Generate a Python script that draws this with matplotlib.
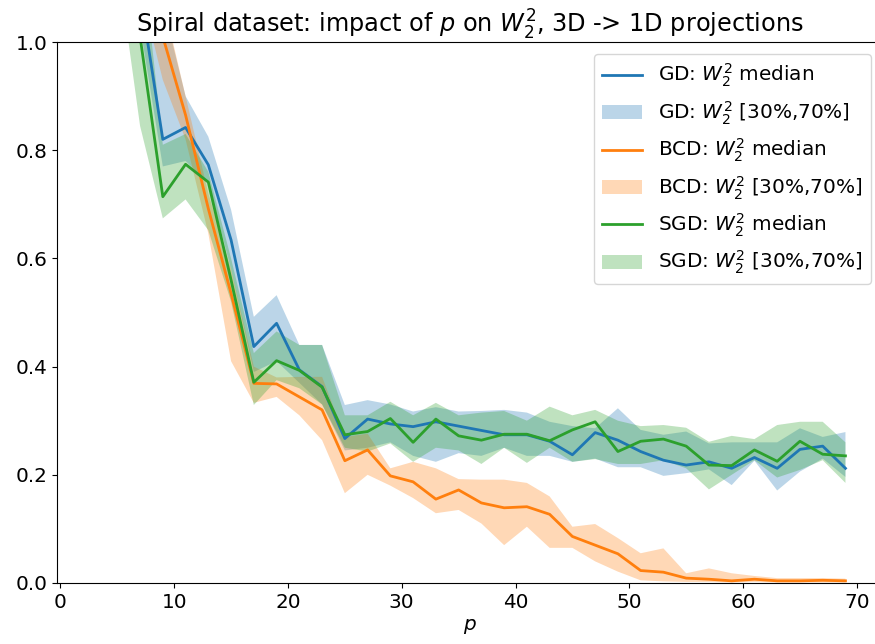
import numpy as np
import matplotlib
matplotlib.use('Agg')
import matplotlib.pyplot as plt

# valeurs de p (projections)
p = np.arange(3, 70, 2)

# GD
gd_med = [1.7, 1.4, 1.09, 0.82, 0.842, 0.773, 0.634, 0.437, 0.48, 0.394, 0.363, 0.267,
          0.303, 0.294, 0.289, 0.298, 0.290, 0.282, 0.274, 0.274, 0.262, 0.237, 0.278,
          0.264, 0.243, 0.227, 0.218, 0.224, 0.212, 0.232, 0.212, 0.247, 0.253, 0.212]
gd_lo = [1.6, 1.3, 1.03, 0.77, 0.78, 0.74, 0.58, 0.39, 0.41, 0.37, 0.33, 0.245,
         0.25, 0.26, 0.235, 0.224, 0.24, 0.235, 0.25, 0.235, 0.235, 0.224, 0.23,
         0.214, 0.214, 0.198, 0.203, 0.21, 0.181, 0.226, 0.171, 0.206, 0.23, 0.196]
gd_hi = [1.9, 1.6, 1.25, 1.07, 0.9, 0.825, 0.69, 0.492, 0.532, 0.44, 0.44, 0.329,
         0.338, 0.33, 0.317, 0.325, 0.317, 0.318, 0.32, 0.315, 0.298, 0.29, 0.286,
         0.323, 0.283, 0.274, 0.28, 0.258, 0.26, 0.26, 0.26, 0.286, 0.27, 0.279]

# BCD
bcd_med = [1.8, 1.6, 1.3, 1.01, 0.865, 0.692, 0.535, 0.369, 0.368, 0.344, 0.32, 0.226,
           0.246, 0.198, 0.187, 0.155, 0.172, 0.148, 0.139, 0.141, 0.127, 0.086, 0.07,
           0.054, 0.023, 0.02, 0.009, 0.007, 0.004, 0.007, 0.004, 0.004, 0.005, 0.004]
bcd_lo = [1.7, 1.4, 1.1, 0.93, 0.82, 0.646, 0.41, 0.333, 0.344, 0.31, 0.264, 0.166,
          0.2, 0.18, 0.157, 0.129, 0.135, 0.11, 0.07, 0.104, 0.065, 0.065, 0.04,
          0.021, 0.005, 0.003, 0.002, 0.002, 0.001, 0.002, 0.001, 0.001, 0.001, 0.001]
bcd_hi = [1.9, 1.7, 1.4, 1.08, 0.9, 0.72, 0.58, 0.40, 0.38, 0.381, 0.381, 0.27,
          0.276, 0.212, 0.224, 0.212, 0.192, 0.191, 0.191, 0.185, 0.16, 0.104, 0.109,
          0.083, 0.055, 0.064, 0.018, 0.027, 0.018, 0.013, 0.009, 0.009, 0.009, 0.008]

# SGD
sgd_med = [1.7, 1.35, 1.01, 0.714, 0.774, 0.741, 0.56, 0.371, 0.411, 0.393, 0.362, 0.274,
           0.28, 0.304, 0.26, 0.303, 0.272, 0.264, 0.275, 0.275, 0.263, 0.283, 0.298,
           0.243, 0.262, 0.266, 0.253, 0.218, 0.217, 0.246, 0.225, 0.262, 0.238, 0.235]
sgd_lo = [1.5, 1.15, 0.845, 0.674, 0.709, 0.652, 0.52, 0.329, 0.375, 0.36, 0.33, 0.25,
          0.243, 0.258, 0.224, 0.25, 0.245, 0.22, 0.25, 0.222, 0.25, 0.224, 0.229,
          0.22, 0.22, 0.227, 0.212, 0.173, 0.2, 0.227, 0.195, 0.209, 0.227, 0.185]
sgd_hi = [1.9, 1.6, 1.2, 0.81, 0.83, 0.76, 0.6, 0.425, 0.465, 0.44, 0.44, 0.31,
          0.31, 0.335, 0.31, 0.333, 0.31, 0.315, 0.318, 0.30, 0.326, 0.31, 0.32,
          0.30, 0.29, 0.292, 0.287, 0.261, 0.272, 0.266, 0.292, 0.298, 0.298, 0.26]

series = [
    ("GD", gd_med, gd_lo, gd_hi, "tab:blue"),
    ("BCD", bcd_med, bcd_lo, bcd_hi, "tab:orange"),
    ("SGD", sgd_med, sgd_lo, sgd_hi, "tab:green"),
]

plt.rcParams['font.size'] = 14.4

fig = plt.figure(figsize=(8.75, 6.44), dpi=100)
# l'axe déborde à droite : le bord droit est hors de l'image dans l'original
ax = fig.add_axes([57 / 875, 61 / 644, 826 / 875, 541 / 644])

for name, med, lo, hi, col in series:
    ax.plot(p, med, color=col, lw=2, label=name + r": $W_2^2$ median")
    ax.fill_between(p, lo, hi, color=col, alpha=0.3, lw=0,
                    label=name + r": $W_2^2$ [30%,70%]")

ax.set_xlim(-0.3, 72.3)
ax.set_ylim(0, 1)
ax.set_xlabel(r"$p$")
ax.set_title(r"Spiral dataset: impact of $p$ on $W_2^2$, 3D -> 1D projections", fontsize=17.3)
ax.legend(loc='upper right', borderaxespad=0.6)

fig.savefig('out.png', dpi=100)
